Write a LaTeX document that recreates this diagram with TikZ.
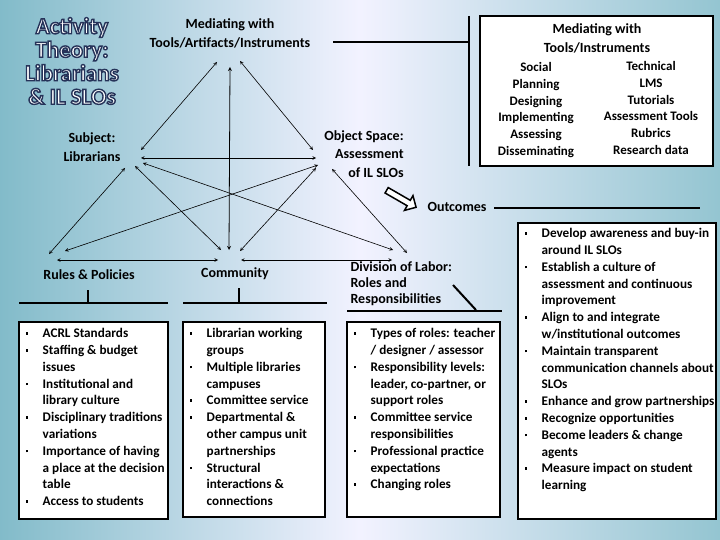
\documentclass[tikz,border=0pt]{standalone}
\usepackage{fontspec}
\setmainfont{Carlito}
\usetikzlibrary{positioning, arrows, shapes.arrows}
\tikzstyle{rel}=[<->, >=stealth, line width=0.6pt]
\tikzstyle{box}=[draw, line width=2pt, fill=white, anchor=north west, inner sep=0pt]
\tikzstyle{lbl}=[font=\bfseries\fontsize{14}{19}\selectfont, align=center]
\tikzstyle{rule}=[line width=2pt]
\newcommand{\bul}[1]{\par\hangindent=1.3em\hangafter=1\noindent\makebox[1.3em][l]{\raisebox{3pt}{\rule{2.5pt}{2.5pt}}}#1}
\newcommand{\boxtext}[2]{\parbox[t]{#1}{\raggedright\hyphenpenalty=10000\bfseries\fontsize{13.2}{16.8}\selectfont\vspace{0pt}#2\vspace{5pt}}}
\newcommand{\ttl}[1]{\fontsize{23}{23.5}\selectfont\bfseries #1}
\newcommand{\outl}[1]{\special{pdf:code 2 Tr 1.4 w 0.15 0.2 0.35 RG}#1\special{pdf:code 0 Tr}}

\begin{document}
\begin{tikzpicture}[x=1pt, y=-1pt]
\useasboundingbox (0,0) rectangle (720,540);
\shade[left color=blue!20!cyan!40!gray!70, right color=blue!20!cyan!40!gray!60, middle color=white!95!blue] (0,0) rectangle (720,540);
% title
\node[text=white, align=center, font=\ttl{}] (title) at (72,61) {\outl{Activity}\\\outl{Theory:}\\\outl{Librarians}\\\outl{\& IL SLOs}};
% corner labels of the triangle
\node[lbl] (med) at (230,33) {Mediating with\\Tools/Artifacts/Instruments};
\node[lbl] (subj) at (92,147) {Subject:\\Librarians};
\node[lbl, align=right, font=\bfseries\fontsize{14}{18.5}\selectfont] (obj) at (364,154) {Object Space:\\Assessment\\of IL SLOs};
\node[lbl] (rules) at (89,275) {Rules \& Policies};
\node[lbl] (comm) at (235,274) {Community};
\node[lbl, align=left, anchor=west, font=\bfseries\fontsize{14}{16}\selectfont] (div) at (347,284) {Division of Labor:\\Roles and\\Responsibilities};
% arrow end points
\coordinate (mS) at (217,62); \coordinate (mC) at (230,67); \coordinate (mO) at (240,61);
\coordinate (sM) at (141,150);
\coordinate (sO) at (141,158); \coordinate (sR) at (125,168); \coordinate (sC) at (135,166); \coordinate (sD) at (143,163);
\coordinate (oS) at (316,158); \coordinate (oM) at (313,150); \coordinate (oR) at (318,165); \coordinate (oC) at (316,168); \coordinate (oD) at (332,169);
\coordinate (rS) at (49,254); \coordinate (rO) at (65,251); \coordinate (rC) at (57,260);
\coordinate (cR) at (218,260); \coordinate (cS) at (221,250); \coordinate (cM) at (229,250); \coordinate (cO) at (240,251); \coordinate (cD) at (241,260);
\coordinate (dC) at (392,260); \coordinate (dS) at (393,250); \coordinate (dO) at (407,253);
\draw[rel] (mS) -- (sM);
\draw[rel] (mO) -- (oM);
\draw[rel, thick] (mC) -- (cM);
\draw[rel] (sO) -- (oS);
\draw[rel] (sR) -- (rS);
\draw[rel] (sC) -- (cS);
\draw[rel] (sD) -- (dS);
\draw[rel] (oR) -- (rO);
\draw[rel] (oC) -- (cO);
\draw[rel] (oD) -- (dO);
\draw[rel] (rC) -- (cR);
\draw[rel] (cD) -- (dC);
% outcomes
\node[single arrow, draw, line width=1.5pt, fill=white, minimum height=34pt, minimum width=17pt, single arrow head extend=3pt, inner sep=1pt, rotate=-30] (oarr) at (400,198) {};
\node[lbl, anchor=west] (outc) at (424,207) {Outcomes};
\draw[rule] (outc.east) ++(4,1) coordinate (o1) -- (700,208);
% tool box and bracket
\coordinate (b1) at (333,42); \coordinate (b2) at (469,42);
\coordinate (b3) at (469,16); \coordinate (b4) at (469,166);
\draw[rule] (b1) -- (b2);
\draw[rule] (b3) -- (b4);
\draw[box] (480,16) rectangle (713,166);
\node[lbl] (toolt) at (597,38) {Mediating with\\Tools/Instruments};
\node[align=center, font=\bfseries\fontsize{13}{16.8}\selectfont] (social) at (536,110) {Social\\Planning\\Designing\\Implementing\\Assessing\\Disseminating};
\node[align=center, font=\fontsize{13}{16.8}\selectfont\bfseries] (tech) at (651,108) {Technical\\LMS\\Tutorials\\Assessment Tools\\Rubrics\\Research data};
% label underlines
\coordinate (r1) at (19,303); \coordinate (r2) at (168,303); \coordinate (r3) at (88,290);
\coordinate (c1) at (183,303); \coordinate (c2) at (327,303); \coordinate (c3) at (239,288);
\coordinate (d1) at (347,311); \coordinate (d2) at (502,311); \coordinate (d3) at (453,285); \coordinate (d4) at (476,310);
\draw[rule] (r1) -- (r2); \draw[rule] (r3) -- (r3 |- r1);
\draw[rule] (c1) -- (c2); \draw[rule] (c3) -- (c3 |- c1);
\draw[rule] (d1) -- (d2); \draw[rule] (d3) -- (d4);
% list boxes
\draw[box] (19,322) rectangle (168,519);
\node[anchor=north west] (rlist) at (22,325) {\boxtext{142pt}{%
\bul{ACRL Standards}\bul{Staffing \& budget issues}\bul{Institutional and library culture}\bul{Disciplinary traditions variations}\bul{Importance of having a place at the decision table}\bul{Access to students}}};
\draw[box] (183,322) rectangle (325,517);
\node[anchor=north west] (clist) at (186,325) {\boxtext{134pt}{%
\bul{Librarian working groups}\bul{Multiple libraries campuses}\bul{Committee service}\bul{Departmental \& other campus unit partnerships}\bul{Structural interactions \& connections}}};
\draw[box] (347,322) rectangle (500,517);
\node[anchor=north west] (dlist) at (350,325) {\boxtext{146pt}{%
\bul{Types of roles: teacher / designer / assessor}\bul{Responsibility levels: leader, co-partner, or support roles}\bul{Committee service responsibilities}\bul{Professional practice expectations}\bul{Changing roles}}};
\draw[box] (518,223) rectangle (716,519);
\node[anchor=north west] (olist) at (521,225) {\boxtext{192pt}{%
\bul{Develop awareness and buy-in around IL SLOs}\bul{Establish a culture of assessment and continuous improvement}\bul{Align to and integrate w/institutional outcomes}\bul{Maintain transparent communication channels about SLOs}\bul{Enhance and grow partnerships}\bul{Recognize opportunities}\bul{Become leaders \& change agents}\bul{Measure impact on student learning}}};
\end{tikzpicture}
\end{document}
